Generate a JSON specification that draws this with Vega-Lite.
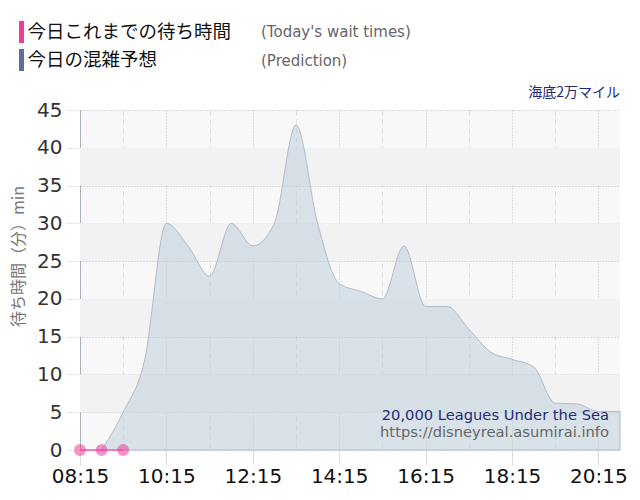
{
  "$schema": "https://vega.github.io/schema/vega-lite/v6.json",
  "width": 540,
  "height": 340,
  "autosize": {"type": "none"},
  "padding": {"left": 80, "top": 110, "right": 20, "bottom": 50},
  "background": "white",
  "title": {"text": "海底2万マイル", "anchor": "end", "frame": "group", "font": "Noto Sans CJK JP", "fontSize": 14, "fontWeight": "normal", "color": "#1f2a7a", "offset": 10, "dy": 89},
  "config": {
    "view": {"stroke": null, "fill": "#f8f8f8"},
    "axis": {"zindex": 1},
    "axisY": {
      "values": [0, 5, 10, 15, 20, 25, 30, 35, 40, 45],
      "tickCount": 10,
      "labelOverlap": false,
      "labelFont": "DejaVu Sans",
      "labelFontSize": 20,
      "labelColor": "#333333",
      "labelPadding": 3,
      "grid": true,
      "gridDash": [1, 2],
      "gridColor": "#bdbdbd",
      "tickSize": 15,
      "tickDash": [1, 2],
      "tickColor": "#bdbdbd",
      "domain": true,
      "domainColor": "#aab2c0"
    }
  },
  "datasets": {
    "pred": [
      {"t": "2024-01-01T08:45", "v": 0},
      {"t": "2024-01-01T09:15", "v": 5},
      {"t": "2024-01-01T09:45", "v": 12},
      {"t": "2024-01-01T10:15", "v": 30},
      {"t": "2024-01-01T10:45", "v": 27},
      {"t": "2024-01-01T11:15", "v": 23},
      {"t": "2024-01-01T11:45", "v": 30},
      {"t": "2024-01-01T12:15", "v": 27},
      {"t": "2024-01-01T12:45", "v": 30},
      {"t": "2024-01-01T13:15", "v": 43},
      {"t": "2024-01-01T13:45", "v": 30},
      {"t": "2024-01-01T14:15", "v": 22},
      {"t": "2024-01-01T14:45", "v": 21},
      {"t": "2024-01-01T15:15", "v": 20},
      {"t": "2024-01-01T15:45", "v": 27},
      {"t": "2024-01-01T16:15", "v": 19},
      {"t": "2024-01-01T16:45", "v": 19},
      {"t": "2024-01-01T17:15", "v": 16},
      {"t": "2024-01-01T17:45", "v": 13},
      {"t": "2024-01-01T18:15", "v": 12},
      {"t": "2024-01-01T18:45", "v": 11},
      {"t": "2024-01-01T19:15", "v": 6.2},
      {"t": "2024-01-01T19:45", "v": 6.1},
      {"t": "2024-01-01T20:15", "v": 5.1},
      {"t": "2024-01-01T20:45", "v": 5.1}
    ],
    "today": [
      {"t": "2024-01-01T08:15", "v": 0, "series": "今日これまでの待ち時間", "en": "(Today's wait times)"},
      {"t": "2024-01-01T08:45", "v": 0, "series": "今日これまでの待ち時間", "en": "(Today's wait times)"},
      {"t": "2024-01-01T09:15", "v": 0, "series": "今日これまでの待ち時間", "en": "(Today's wait times)"}
    ],
    "bands": [
      {"lo": 5, "hi": 10},
      {"lo": 15, "hi": 20},
      {"lo": 25, "hi": 30},
      {"lo": 35, "hi": 40}
    ]
  },
  "layer": [
    {
      "data": {"name": "bands"},
      "mark": {"type": "rect", "color": "#f2f2f2"},
      "encoding": {
        "y": {
          "field": "lo", "type": "quantitative",
          "scale": {"domain": [0, 45], "nice": false},
          "axis": {
            "title": "待ち時間（分）min",
            "titleFont": "Noto Sans CJK JP",
            "titleFontSize": 16,
            "titleFontWeight": "normal",
            "titleColor": "#777777",
            "titleX": -62,
            "titleY": 146,
            "titleAngle": -90,
            "titleAlign": "center",
            "titleBaseline": "middle"
          }
        },
        "y2": {"field": "hi"}
      }
    },
    {
      "data": {"name": "pred"},
      "mark": {"type": "area", "interpolate": "monotone", "fill": "#b9cbd9", "fillOpacity": 0.5, "stroke": "#aebccb", "strokeWidth": 1},
      "encoding": {
        "x": {
          "field": "t", "type": "temporal",
          "scale": {"domain": [{"year": 2024, "month": 1, "date": 1, "hours": 8, "minutes": 15}, {"year": 2024, "month": 1, "date": 1, "hours": 20, "minutes": 45}]},
          "axis": {
            "title": null,
            "values": [
              {"year": 2024, "month": 1, "date": 1, "hours": 8, "minutes": 15},
              {"year": 2024, "month": 1, "date": 1, "hours": 8, "minutes": 45},
              {"year": 2024, "month": 1, "date": 1, "hours": 9, "minutes": 15},
              {"year": 2024, "month": 1, "date": 1, "hours": 9, "minutes": 45},
              {"year": 2024, "month": 1, "date": 1, "hours": 10, "minutes": 15},
              {"year": 2024, "month": 1, "date": 1, "hours": 10, "minutes": 45},
              {"year": 2024, "month": 1, "date": 1, "hours": 11, "minutes": 15},
              {"year": 2024, "month": 1, "date": 1, "hours": 11, "minutes": 45},
              {"year": 2024, "month": 1, "date": 1, "hours": 12, "minutes": 15},
              {"year": 2024, "month": 1, "date": 1, "hours": 12, "minutes": 45},
              {"year": 2024, "month": 1, "date": 1, "hours": 13, "minutes": 15},
              {"year": 2024, "month": 1, "date": 1, "hours": 13, "minutes": 45},
              {"year": 2024, "month": 1, "date": 1, "hours": 14, "minutes": 15},
              {"year": 2024, "month": 1, "date": 1, "hours": 14, "minutes": 45},
              {"year": 2024, "month": 1, "date": 1, "hours": 15, "minutes": 15},
              {"year": 2024, "month": 1, "date": 1, "hours": 15, "minutes": 45},
              {"year": 2024, "month": 1, "date": 1, "hours": 16, "minutes": 15},
              {"year": 2024, "month": 1, "date": 1, "hours": 16, "minutes": 45},
              {"year": 2024, "month": 1, "date": 1, "hours": 17, "minutes": 15},
              {"year": 2024, "month": 1, "date": 1, "hours": 17, "minutes": 45},
              {"year": 2024, "month": 1, "date": 1, "hours": 18, "minutes": 15},
              {"year": 2024, "month": 1, "date": 1, "hours": 18, "minutes": 45},
              {"year": 2024, "month": 1, "date": 1, "hours": 19, "minutes": 15},
              {"year": 2024, "month": 1, "date": 1, "hours": 19, "minutes": 45},
              {"year": 2024, "month": 1, "date": 1, "hours": 20, "minutes": 15},
              {"year": 2024, "month": 1, "date": 1, "hours": 20, "minutes": 45}
            ],
            "format": "%H:%M",
            "labelExpr": "(minutes(datum.value) == 15 && hours(datum.value) % 2 == 0) ? datum.label : ''",
            "labelOverlap": false,
            "labelFlush": false,
            "labelFont": "DejaVu Sans",
            "labelFontSize": 20,
            "labelColor": "#111111",
            "labelPadding": 1,
            "grid": true,
            "gridDash": {"condition": {"test": "minutes(datum.value) == 15 && hours(datum.value) % 2 == 0", "value": [1, 2]}, "value": [5, 4]},
            "gridColor": {"condition": {"test": "minutes(datum.value) == 15 && hours(datum.value) % 2 == 0", "value": "#c4c4c4"}, "value": "#dedede"},
            "domain": false,
            "tickSize": 15,
            "tickColor": {"condition": {"test": "minutes(datum.value) == 15 && hours(datum.value) % 2 == 0", "value": "#dddddd"}, "value": "transparent"}
          }
        },
        "y": {"field": "v", "type": "quantitative"}
      }
    },
    {
      "data": {"name": "today"},
      "mark": {"type": "line", "color": "#f47ab8", "strokeWidth": 2},
      "encoding": {
        "x": {"field": "t", "type": "temporal"},
        "y": {"field": "v", "type": "quantitative"}
      }
    },
    {
      "data": {"name": "today"},
      "mark": {"type": "point", "filled": true, "size": 140, "strokeWidth": 0},
      "encoding": {
        "x": {"field": "t", "type": "temporal"},
        "y": {"field": "v", "type": "quantitative"},
        "color": {
          "field": "series", "type": "nominal",
          "scale": {"domain": ["今日これまでの待ち時間", "今日の混雑予想"], "range": ["#ee3a9a", "#5b6d9c"]},
          "legend": {
            "orient": "none", "legendX": -69.5, "legendY": -89, "title": null, "padding": 0,
            "symbolType": "M-0.23,-1H0.23V1H-0.23Z", "symbolSize": 484, "symbolOpacity": 1, "symbolStrokeWidth": 0,
            "labelFont": "Noto Sans CJK JP", "labelFontSize": 18.5, "labelColor": "#111111", "labelOffset": -5, "labelLimit": 400, "rowPadding": 6
          }
        },
        "opacity": {
          "field": "en", "type": "nominal",
          "scale": {"domain": ["(Today's wait times)", "(Prediction)"], "range": [0.55, 0.55]},
          "legend": {
            "orient": "none", "legendX": 166, "legendY": -86, "title": null, "padding": 0,
            "symbolSize": 0, "symbolOpacity": 0, "symbolStrokeWidth": 0,
            "labelFont": "DejaVu Sans", "labelFontSize": 15, "labelColor": "#666666", "labelOffset": 0, "labelLimit": 400, "rowPadding": 13
          }
        }
      }
    },
    {
      "data": {"values": [{"label": "20,000 Leagues Under the Sea"}]},
      "mark": {"type": "text", "align": "right", "baseline": "alphabetic", "dx": -11, "dy": -30, "font": "DejaVu Sans", "fontSize": 14.7, "color": "#232a7a"},
      "encoding": {
        "x": {"datum": {"year": 2024, "month": 1, "date": 1, "hours": 20, "minutes": 45}, "type": "temporal"},
        "y": {"datum": 0, "type": "quantitative"},
        "text": {"field": "label"}
      }
    },
    {
      "data": {"values": [{"label": "https://disneyreal.asumirai.info"}]},
      "mark": {"type": "text", "align": "right", "baseline": "alphabetic", "dx": -11, "dy": -13, "font": "DejaVu Sans", "fontSize": 14.7, "color": "#666666"},
      "encoding": {
        "x": {"datum": {"year": 2024, "month": 1, "date": 1, "hours": 20, "minutes": 45}, "type": "temporal"},
        "y": {"datum": 0, "type": "quantitative"},
        "text": {"field": "label"}
      }
    }
  ]
}
